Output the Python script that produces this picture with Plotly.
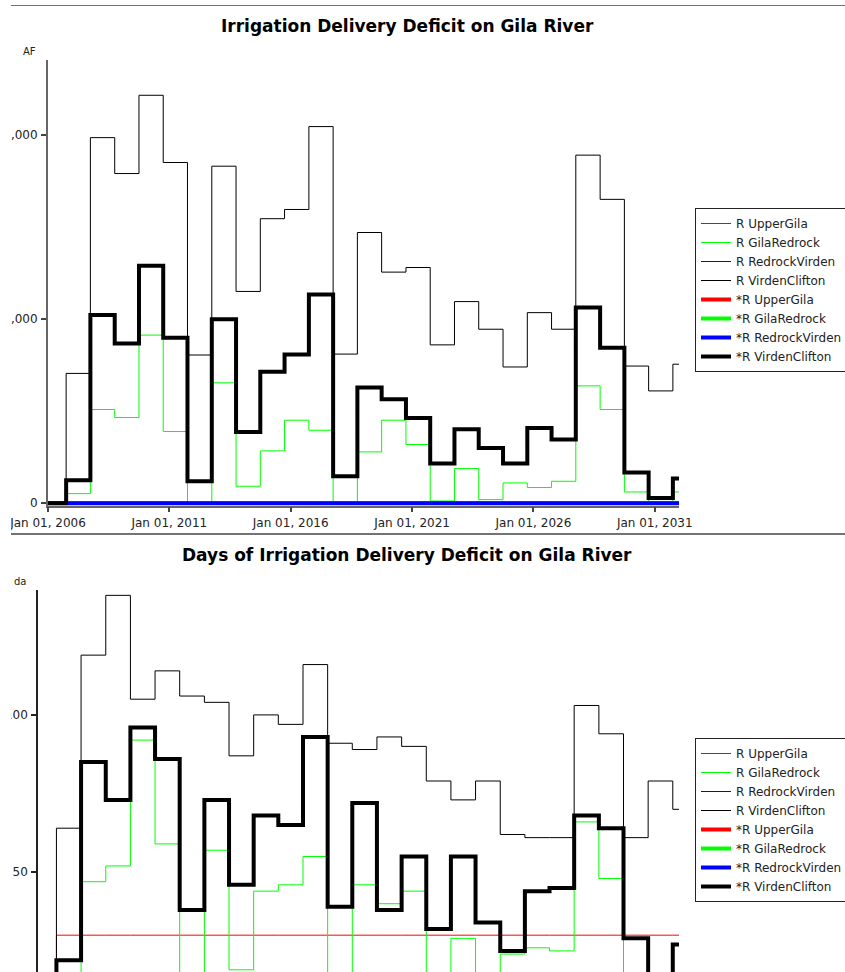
import plotly.graph_objects as go

# ---------------- data ----------------
# step dates: start of record, then each water year (Oct 1), then end of record
dates = ["2006-01-01"] + [f"{y}-10-01" for y in range(2006, 2032)] + ["2032-01-01"]

series_names = ["R UpperGila", "R GilaRedrock", "R RedrockVirden", "R VirdenClifton",
                "*R UpperGila", "*R GilaRedrock", "*R RedrockVirden", "*R VirdenClifton"]

# Irrigation delivery deficit (AF)
af_r_uppergila = [0] * 27
af_r_gilaredrock = [0, 105, 1018, 931, 1826, 779, 0, 1308, 185, 569, 902, 793, 0, 558,
                    902, 638, 25, 377, 40, 221, 171, 239, 1275, 1018, 123, 20, 123]
af_r_redrockvirden = [0] * 27
af_r_virdenclifton = [0, 1410, 3970, 3580, 4430, 3700, 1610, 3660, 2300, 3090, 3190, 4090,
                      1620, 2940, 2510, 2560, 1720, 2190, 1890, 1480, 2070, 1890, 3780,
                      3300, 1490, 1220, 1510]
af_s_uppergila = [0] * 27
af_s_gilaredrock = [0] * 27
af_s_redrockvirden = [0] * 27
af_s_virdenclifton = [0, 250, 2043, 1736, 2580, 1797, 239, 1997, 775, 1427, 1616, 2268,
                      293, 1258, 1130, 927, 431, 804, 601, 431, 818, 692, 2127, 1688,
                      334, 58, 268]

# Days of irrigation delivery deficit
dy_r_uppergila = [0] + [30] * 26
dy_r_gilaredrock = [0, 10, 47, 52, 92, 59, 0, 57, 19, 44, 46, 55, 0, 46, 40, 44, 5, 29,
                    3, 24, 26, 25, 66, 48, 5, 5, 5]
dy_r_redrockvirden = [0] * 27
dy_r_virdenclifton = [0, 64, 119, 138, 105, 114, 106, 104, 87, 100, 97, 116, 91, 89, 93,
                      90, 79, 73, 79, 62, 61, 61, 103, 94, 61, 79, 70]
dy_s_uppergila = [0] * 27
dy_s_gilaredrock = [0] * 27
dy_s_redrockvirden = [0] * 27
dy_s_virdenclifton = [0, 22, 85, 73, 96, 86, 38, 73, 46, 68, 65, 93, 39, 72, 38, 55, 32,
                      55, 34, 25, 44, 45, 68, 64, 29, 12, 27]

af_ticks = [0, 2000, 4000]
dy_ticks = [50, 100]
dy_ticktext = ["50", "100.00"]

titles = ["Irrigation Delivery Deficit on Gila River",
          "Days of Irrigation Delivery Deficit on Gila River"]
units = ["AF", "da"]

colors = ["#ff0000", "#00ff00", "#0000ff", "#000000"] * 2
widths = [1, 1, 1, 1, 4, 4, 4, 4]

# ---------------- layout helpers ----------------
FIG_W, FIG_H = 834, 967
OX, OY = 11, 5          # page offset of the figure
ML, MR, MT, MB = 27, 166, 55, 0
PW = FIG_W - ML - MR
PH = FIG_H - MT - MB


def px_x(page_x):
    return (page_x - OX - ML) / PW


def px_y(page_y):
    return (FIG_H - (page_y - OY) - MB) / PH


def ext(vals):
    # hold last value to the end of the record
    return vals + [vals[-1]]


FONT = "DejaVu Sans"
fig = go.Figure()

top_sets = [af_r_uppergila, af_r_gilaredrock, af_r_redrockvirden, af_r_virdenclifton,
            af_s_uppergila, af_s_gilaredrock, af_s_redrockvirden, af_s_virdenclifton]
bot_sets = [dy_r_uppergila, dy_r_gilaredrock, dy_r_redrockvirden, dy_r_virdenclifton,
            dy_s_uppergila, dy_s_gilaredrock, dy_s_redrockvirden, dy_s_virdenclifton]

for name, vals, c, w in zip(series_names, top_sets, colors, widths):
    fig.add_trace(go.Scatter(x=dates, y=ext(vals), name=name, mode="lines",
                             line=dict(color=c, width=w, shape="hv"),
                             xaxis="x", yaxis="y", legend="legend"))
for name, vals, c, w in zip(series_names, bot_sets, colors, widths):
    fig.add_trace(go.Scatter(x=dates, y=ext(vals), name=name, mode="lines",
                             line=dict(color=c, width=w, shape="hv"),
                             xaxis="x2", yaxis="y2", legend="legend2"))

xr = ["2006-01-01", "2032-01-01"]
tickfont = dict(family=FONT, size=12, color="#222")

fig.update_layout(
    width=FIG_W, height=FIG_H,
    margin=dict(l=ML, r=MR, t=MT, b=MB, autoexpand=False),
    paper_bgcolor="white", plot_bgcolor="white",
    font=dict(family=FONT, size=12, color="#111"),
    xaxis=dict(domain=[px_x(48), px_x(679)], anchor="y", range=xr, type="date",
               tick0="2006-01-01", dtick="M60", tickformat="%b %d, %Y",
               ticks="outside", ticklen=5, tickcolor="#444", tickwidth=1.5,
               ticklabeloverflow="allow",
               showline=True, linecolor="#666", linewidth=1.5,
               showgrid=False, zeroline=False, tickfont=tickfont, automargin=False),
    yaxis=dict(domain=[px_y(505.5), px_y(60)], anchor="x", range=[-24, 4813],
               tickvals=af_ticks, tickformat=",d",
               ticks="outside", ticklen=5, tickcolor="#444", tickwidth=1.5,
               ticklabelstandoff=1, ticklabeloverflow="allow",
               showline=True, linecolor="#666", linewidth=2,
               showgrid=False, zeroline=False, tickfont=tickfont, automargin=False),
    xaxis2=dict(domain=[px_x(38), px_x(679)], anchor="y2", range=xr, type="date",
                showticklabels=False, ticks="", showline=False,
                showgrid=False, zeroline=False, automargin=False),
    yaxis2=dict(domain=[px_y(972), px_y(590)], anchor="x2", range=[18.3, 139.7],
                tickvals=dy_ticks, ticktext=dy_ticktext,
                ticks="outside", ticklen=5, tickcolor="#222", tickwidth=1.5,
                ticklabelstandoff=1, ticklabeloverflow="allow",
                showline=True, linecolor="#222", linewidth=1.5,
                showgrid=False, zeroline=False, tickfont=tickfont, automargin=False),
    legend=dict(x=px_x(695), y=px_y(208), xanchor="left", yanchor="top",
                bgcolor="white", bordercolor="#222", borderwidth=1,
                font=dict(family=FONT, size=12, color="#222"),
                traceorder="normal", itemwidth=30),
    legend2=dict(x=px_x(695), y=px_y(738), xanchor="left", yanchor="top",
                 bgcolor="white", bordercolor="#222", borderwidth=1,
                 font=dict(family=FONT, size=12, color="#222"),
                 traceorder="normal", itemwidth=30),
    showlegend=True,
)

# panel titles
for t, yc in zip(titles, [26, 555]):
    fig.add_annotation(text=f"<b>{t}</b>", xref="paper", yref="paper",
                       x=px_x(407), y=px_y(yc), xanchor="center", yanchor="middle",
                       showarrow=False, font=dict(family=FONT, size=17, color="#000"))

# axis unit labels
for u, xr_, yc in zip(units, [38, 28], [52, 581]):
    fig.add_annotation(text=u, xref="paper", yref="paper",
                       x=px_x(xr_), y=px_y(yc), xanchor="right", yanchor="middle",
                       showarrow=False, font=dict(family=FONT, size=10, color="#222"))

# panel top borders
for yb in [5, 534]:
    fig.add_shape(type="line", xref="paper", yref="paper",
                  x0=px_x(0), x1=px_x(900), y0=px_y(yb), y1=px_y(yb),
                  line=dict(color="#444", width=1.5))

fig.write_html("out.html", config={"displayModeBar": False},
               post_script="document.body.style.margin='5px 0 0 11px';"
                           "document.body.style.overflow='hidden';")
